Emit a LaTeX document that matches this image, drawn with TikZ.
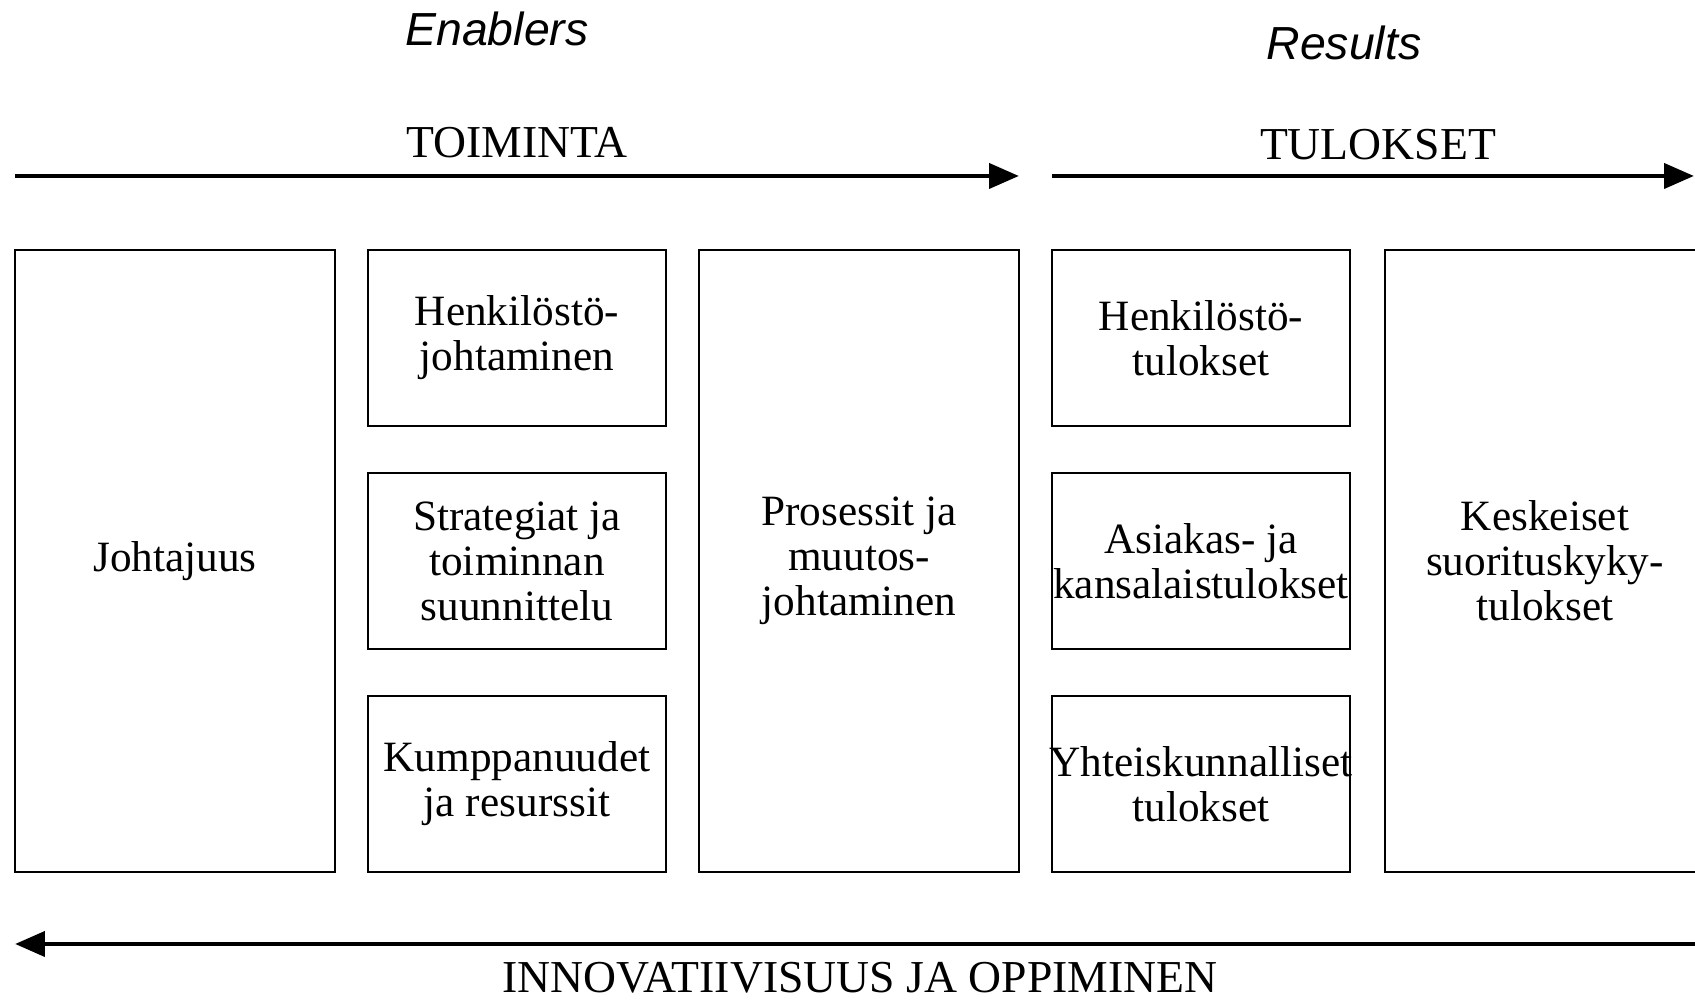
\documentclass[tikz,border=0pt]{standalone}
\usepackage{fontspec}
\setmainfont{Liberation Serif}
\newfontfamily\labelfont{Liberation Sans}
\usepackage{tikz}
\usetikzlibrary{positioning,arrows.meta}

\begin{document}
\begin{tikzpicture}[
				tallnode/.style={rectangle, draw=black, line width=0.8pt, outer sep=0pt, minimum width=3.20cm, minimum height=6.22cm, inner sep=0pt, align=center, font=\fontsize{12.3}{12.8}\selectfont},
				smallnode/.style={rectangle, draw=black, line width=0.8pt, outer sep=0pt, minimum width=2.98cm, minimum height=1.76cm, inner sep=0pt, align=center, font=\fontsize{12.3}{12.8}\selectfont},
				headnode/.style={anchor=base, font=\fontsize{13}{15}\selectfont},
				titlenode/.style={anchor=base, font=\labelfont\itshape\fontsize{13.2}{15}\selectfont},
				flow/.style={line width=1.4pt, -{Triangle[length=8.5pt,width=7pt]}},
				node distance = 0.47cm,
				]
				\useasboundingbox (0,0) rectangle (16.95,10);
				\clip (0,0) rectangle (16.95,10);
				%Nodes
				\node[tallnode, anchor=north west](johta) at (0.15,7.50){Johtajuus};
				\node[smallnode, right=0.33cm of johta.north east, anchor=north west](henjoht){Henkilöstö-\\johtaminen};
				\node[smallnode](strat)[below=of henjoht]{Strategiat ja\\toiminnan\\suunnittelu};
				\node[smallnode](kump)[below=of strat]{Kumppanuudet\\ja resurssit};
				\node[tallnode, right=0.33cm of henjoht.north east, anchor=north west](proses){Prosessit ja\\muutos-\\johtaminen};
				\node[smallnode, right=0.33cm of proses.north east, anchor=north west](hentul){Henkilöstö-\\tulokset};
				\node[smallnode](asiakas)[below=of hentul]{Asiakas- ja\\kansalaistulokset};
				\node[smallnode](yhteis)[below=of asiakas]{\makebox[2.9cm]{Yhteiskunnalliset}\\tulokset};
				\node[tallnode, right=0.35cm of hentul.north east, anchor=north west](keskeiset){Keskeiset\\suorituskyky-\\tulokset};
				
				\node[titlenode](enablers) at (4.97,9.54){Enablers};
				\node[titlenode](results) at (13.44,9.40){Results};
				\node[headnode](toiminta) at (5.17,8.42){TOIMINTA};
				\node[headnode](tulokset) at (13.78,8.40){TULOKSET};
				\node[headnode](innovaatio) at (8.60,0.07){INNOVATIIVISUUS JA OPPIMINEN};
				
				%Lines
				\coordinate (toimA) at (0.15,8.24);
				\coordinate (toimB) at (proses.east |- toimA);
				\coordinate (tulA) at (hentul.west |- toimA);
				\coordinate (tulB) at (16.94,8.24);
				\coordinate (innoA) at (17.20,0.56);
				\coordinate (innoB) at (johta.west |- innoA);
				
				\draw[flow] (toimA) -- (toimB);
				\draw[flow] (tulA) -- (tulB);
				\draw[flow] (innoA) -- (innoB);
				
			\end{tikzpicture}
\end{document}
